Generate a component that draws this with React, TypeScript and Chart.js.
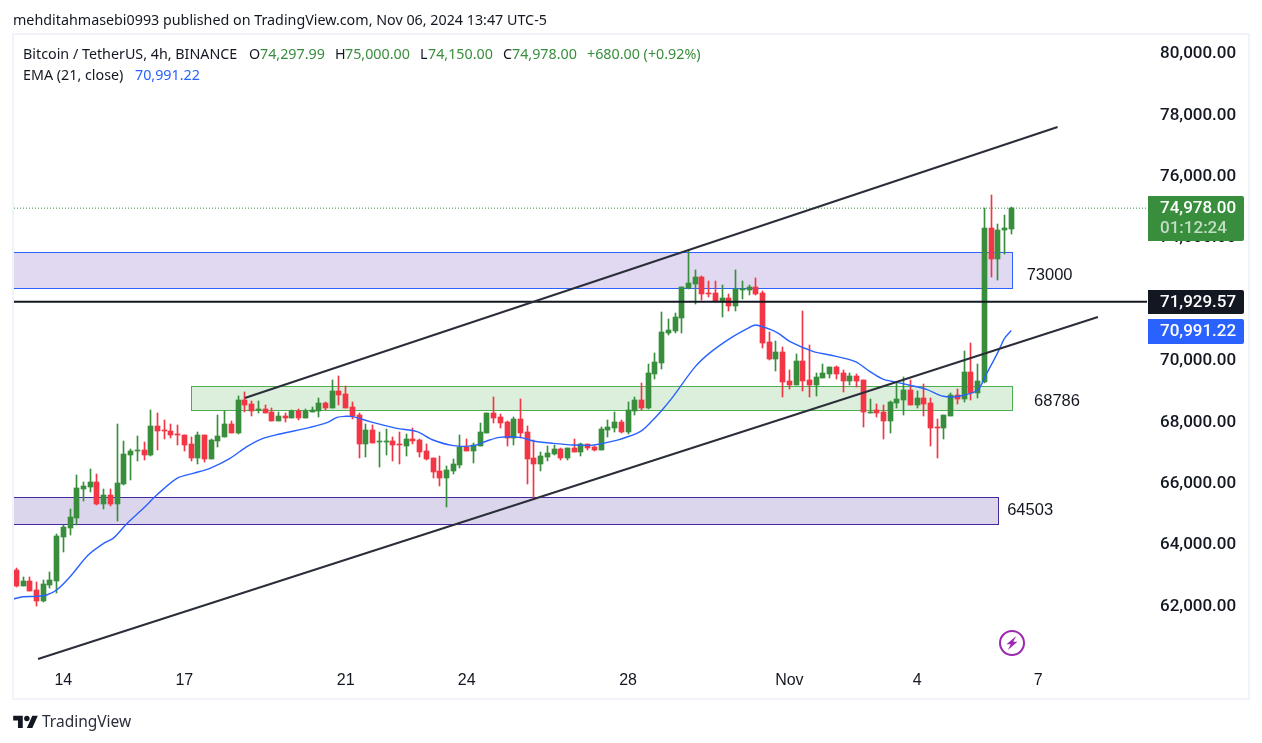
import React, { useEffect, useRef } from "react";
import { Chart, registerables } from "chart.js";

Chart.register(...registerables);

// OHLC values, one per 4h bar
const opens = [63190,62680,62830,62530,62190,62700,62840,64260,64550,64880,65830,65890,66050,65340,65630,65340,65990,66930,67060,67100,66930,67880,67750,67710,67620,67580,67290,66830,67580,66800,67390,67520,67940,67650,68720,68590,68400,68430,68330,68040,68200,68140,68370,68140,68330,68370,68630,68460,69020,68920,68500,68240,67290,67750,67360,67360,67390,67290,67230,67450,67420,67060,66830,66410,66180,66410,66610,67190,67060,67230,67650,68300,68170,68010,67490,68110,67680,66830,66640,66870,66960,67130,66830,67160,67030,67290,67190,67100,67750,67810,68010,67680,68370,68720,68460,69570,69930,70910,70970,71400,72370,72500,72730,72210,72210,71920,72050,71790,72310,72310,72410,72210,70620,70060,70290,69340,69210,70000,69380,69210,69440,69570,69800,69600,69340,69510,69380,68300,68400,68330,68040,68630,68730,69050,68560,68790,68630,67850,67810,68200,68890,68760,69640,68950,69310,74330,73320,74260,74297.99];
const highs = [63240,62970,62960,62800,62860,63120,64360,64650,65170,66280,66050,66480,66310,65830,65830,67940,67390,67130,67550,67360,68400,68300,68070,67940,67910,67580,67520,67680,67580,67450,68240,68370,68040,68860,68990,68690,68690,68560,68460,68330,68300,68400,68430,68430,68500,68790,68660,69380,69510,69180,68660,68300,67940,67910,67680,67780,67520,67680,67620,67810,67450,67290,66830,66900,66570,66800,67580,67450,67320,67970,68300,68820,68270,68040,68170,68760,67880,67420,67030,67230,67260,67160,67160,67450,67320,67290,67230,67850,68070,68330,68070,68660,68820,69280,69900,70260,71590,71360,71560,72410,73610,72960,72770,72600,72600,72470,72180,72960,72600,72470,72700,72280,70940,70650,70450,69700,70220,71620,70520,69600,69900,69800,69830,69700,69600,69570,69380,68760,68600,68560,68690,69280,69470,69380,69020,69250,68790,68110,68240,68950,69080,70320,70580,69900,74980,75400,74460,74750,75000];
const lows = [62640,62670,62510,62010,62150,62610,62450,63780,64330,64650,65440,65740,65300,65170,65270,64790,65960,66120,66740,66770,66900,67100,67450,67490,67260,67060,66740,66640,66700,66800,67190,67520,67650,67620,68350,68200,68290,68290,68040,68040,68010,68140,68070,68140,68330,68170,68400,68460,68560,68460,68110,66830,66870,67320,66540,66930,66740,66640,66900,67290,66870,66770,66180,65920,65240,66310,66510,67060,66670,67230,67650,67970,67810,67230,67260,67490,65990,65530,66410,66740,66930,66770,66770,67030,66900,67100,67060,67100,67520,67680,67650,67620,68240,68400,68430,69410,69730,70840,70910,70910,72340,71850,71980,72080,71920,71430,71620,71620,72020,72150,72150,70420,70030,69670,68820,69080,69210,69020,68820,68860,69440,69440,69410,68990,69210,69150,67850,68300,68170,67450,67650,68460,68240,68560,68460,68200,67230,66830,67450,68200,68600,68660,68730,68790,69280,72730,72630,73480,74150];
const closes = [62680,62830,62510,62190,62730,62860,64290,64590,64910,65860,65920,66050,65340,65630,65340,66020,66970,67060,67100,66930,67880,67710,67710,67580,67580,67260,66830,67580,66800,67420,67550,67940,67650,68720,68560,68370,68430,68300,68040,68200,68140,68370,68140,68370,68400,68630,68460,69020,68890,68460,68200,67290,67750,67320,67390,67390,67260,67260,67450,67390,67030,66800,66380,66180,66440,66640,67190,67060,67260,67680,68300,68140,67980,67490,68110,67650,66800,66640,66900,67000,67130,66830,67160,67030,67290,67160,67100,67780,67850,68010,67680,68400,68720,68460,69600,69960,70940,71010,71430,72410,72540,72730,72180,72180,71950,72050,71790,72340,72340,72410,72180,70580,70060,70290,69310,69210,70000,69340,69210,69470,69600,69800,69570,69340,69510,69340,68330,68330,68300,68040,68660,68760,69050,68560,68790,68600,67810,67810,68240,68890,68760,69640,68950,69340,74330,73320,74260,74330,74978];

// EMA (21, close), read at selected bars
const emaBars = [-0.45,1,3,4.5,6,8,10.7,13,14.4,16.4,18.9,20.9,23.9,26.3,28.8,31.8,34.3,36.7,39.2,43.7,46.2,47.7,48.9,50.1,52.6,56.6,59.6,62,65,68,70,71.9,74.9,76.9,79.9,82.9,85.3,86.8,89.8,92.8,94.7,96.2,97.7,101,103.4,106.6,109.1,110,112.6,113.6,115.1,118.6,121,124.8,127,129,131,133.4,135.4,137.9,140.4,143,144.3,145.3,146.3,147,148];
const emaValues = [62244,62320,62331,62374,62537,62972,63677,64058,64220,64688,65198,65632,66175,66338,66501,66827,67207,67479,67620,67837,67989,68163,68196,68185,68022,67805,67696,67424,67240,67240,67392,67511,67511,67392,67316,67261,67250,67294,67446,67696,68076,68435,68837,69814,70303,70792,71096,71172,70987,70867,70629,70303,70194,69977,69651,69401,69304,69184,69076,68848,68858,69053,69575,69976,70411,70736,70991.22];

// Drawings: trend channel, levels and zones
const upperTrendBars = [34, 154.9];
const upperTrendValues = [68793, 77622];
const lowerTrendBars = [3.23, 160.9];
const lowerTrendValues = [60290, 71432];
const levelValue = 71929.57;
const lastClose = 74978;
const emaLast = 70991.22;
const zoneLeftBars = [-2, 26, -2];
const zoneRightBars = [148.1, 148.1, 146];
const zoneTops = [73550, 69200, 65567];
const zoneBottoms = [72377, 68386, 64704];
const zoneLabels = ["73000", "68786", "64503"];
const zoneLabelBars = [150.3, 151.4, 147.4];
const zoneLabelValues = [72800, 68695, 65143];
const zoneStrokes = ["#2962ff", "#4caf50", "#4527a0"];
const zoneFills = ["rgba(103,58,183,0.2)", "rgba(76,175,80,0.2)", "rgba(69,39,160,0.19)"];

// Axes
const timeTickBars = [7, 25, 49, 67, 91, 115, 134, 152];
const timeTickLabels = ["14", "17", "21", "24", "28", "Nov", "4", "7"];
const priceTicks = [62000, 64000, 66000, 68000, 70000, 72000, 74000, 76000, 78000, 80000];

const GREEN = "#388e3c";
const RED = "#f23645";
const INK = "#131722";
const AXIS_FONT = '500 17px Roboto, sans-serif';
const fmt = (v: number) =>
  v.toLocaleString("en-US", { minimumFractionDigits: 2, maximumFractionDigits: 2 });

const bars = opens.map((_, i) => i);
const candleColors = opens.map((o, i) => (closes[i] >= o ? GREEN : RED));

const snapPlugin = {
  id: "snap",
  afterDatasetsUpdate(chart: any) {
    chart.data.datasets.forEach((d: any, i: number) => {
      if (!d.snap) return;
      chart.getDatasetMeta(i).data.forEach((el: any) => {
        el.x = Math.floor(el.x) + 0.5;
        el.y = Math.round(el.y);
        el.base = Math.round(el.base);
        if (Math.abs(el.base - el.y) < 1) el.base = el.y + 1;
      });
    });
  },
};

const zonesPlugin = {
  id: "zones",
  beforeDatasetsDraw(chart: any) {
    const { ctx, scales, chartArea: a } = chart;
    ctx.save();
    ctx.beginPath();
    ctx.rect(a.left, a.top, a.right - a.left, a.bottom - a.top);
    ctx.clip();
    zoneTops.forEach((top, i) => {
      const x0 = Math.round(scales.x.getPixelForValue(zoneLeftBars[i])) + 0.5;
      const x1 = Math.round(scales.x.getPixelForValue(zoneRightBars[i])) + 0.5;
      const y0 = Math.round(scales.y.getPixelForValue(top)) + 0.5;
      const y1 = Math.round(scales.y.getPixelForValue(zoneBottoms[i])) + 0.5;
      ctx.fillStyle = zoneFills[i];
      ctx.fillRect(x0, y0, x1 - x0, y1 - y0);
      ctx.strokeStyle = zoneStrokes[i];
      ctx.lineWidth = 1;
      ctx.strokeRect(x0, y0, x1 - x0, y1 - y0);
    });
    ctx.restore();
  },
  afterDatasetsDraw(chart: any) {
    const { ctx, scales } = chart;
    ctx.save();
    ctx.fillStyle = INK;
    ctx.font = '16.5px "Liberation Sans", sans-serif';
    ctx.textAlign = "left";
    ctx.textBaseline = "middle";
    zoneLabels.forEach((t, i) => {
      ctx.fillText(t, scales.x.getPixelForValue(zoneLabelBars[i]), scales.y.getPixelForValue(zoneLabelValues[i]));
    });
    ctx.restore();
  },
};

const tagsPlugin = {
  id: "tags",
  afterDraw(chart: any) {
    const { ctx, scales } = chart;
    const tag = (value: number, nudge: number, h: number, bg: string, lines: [string, string][]) => {
      const cy = scales.y.getPixelForValue(value) + nudge;
      const top = Math.round(cy - 12.5);
      ctx.fillStyle = bg;
      ctx.beginPath();
      ctx.roundRect(1148, top, 96, h, [0, 2, 2, 0]);
      ctx.fill();
      ctx.font = AXIS_FONT;
      ctx.textAlign = "left";
      ctx.textBaseline = "middle";
      lines.forEach(([t, c], i) => {
        ctx.fillStyle = c;
        ctx.fillText(t, 1160, top + 12.5 + i * 20.5);
      });
    };
    ctx.save();
    tag(lastClose, 0, 45, GREEN, [[fmt(lastClose), "#ffffff"], ["01:12:24", "rgba(255,255,255,0.7)"]]);
    tag(levelValue, 0.5, 24, INK, [[fmt(levelValue), "#ffffff"]]);
    tag(emaLast, 1, 25, "#2962ff", [[fmt(emaLast), "#ffffff"]]);
    ctx.restore();
  },
};

const legendBase: React.CSSProperties = {
  position: "absolute",
  whiteSpace: "nowrap",
  font: '14.3px "Noto Sans", sans-serif',
  lineHeight: "18px",
  color: INK,
};

const Txt = ({ x, y, c, children }: { x: number; y: number; c?: string; children: React.ReactNode }) => (
  <span style={{ ...legendBase, left: x, top: y, color: c || INK }}>{children}</span>
);

export default function App() {
  const ref = useRef<HTMLCanvasElement>(null);
  useEffect(() => {
    const chart = new Chart(ref.current!, {
      type: "bar",
      data: {
        datasets: [
          {
            type: "line",
            data: upperTrendBars.map((x, i) => ({ x, y: upperTrendValues[i] })),
            borderColor: "#2a2e39",
            borderWidth: 2,
            pointRadius: 0,
            order: 0,
          },
          {
            type: "line",
            data: lowerTrendBars.map((x, i) => ({ x, y: lowerTrendValues[i] })),
            borderColor: "#2a2e39",
            borderWidth: 2,
            pointRadius: 0,
            order: 0,
          },
          {
            type: "line",
            data: [{ x: -0.34, y: levelValue }, { x: 168.2, y: levelValue }],
            borderColor: INK,
            borderWidth: 2,
            pointRadius: 0,
            order: 1,
          },
          {
            type: "line",
            data: [{ x: -0.34, y: lastClose }, { x: 168.2, y: lastClose }],
            borderColor: GREEN,
            borderWidth: 1,
            borderDash: [1, 2],
            pointRadius: 0,
            order: 1,
          },
          {
            type: "line",
            data: emaBars.map((x, i) => ({ x, y: emaValues[i] })),
            borderColor: "#2962ff",
            borderWidth: 1.4,
            pointRadius: 0,
            tension: 0.3,
            order: 2,
          },
          {
            snap: true,
            data: bars.map((i) => ({ x: i, y: [opens[i], closes[i]] })),
            backgroundColor: candleColors,
            barThickness: 5,
            grouped: false,
            order: 3,
          },
          {
            snap: true,
            data: bars.map((i) => ({ x: i, y: [lows[i], highs[i]] })),
            backgroundColor: candleColors,
            barThickness: 1,
            grouped: false,
            order: 4,
          },
        ] as any,
      },
      options: {
        animation: false,
        responsive: false,
        events: [],
        layout: { padding: { left: 14, top: 35, right: 12, bottom: 45 } },
        plugins: { legend: { display: false }, tooltip: { enabled: false } },
        scales: {
          x: {
            type: "linear",
            min: -0.34,
            max: 168.2,
            offset: false,
            grid: { display: false },
            border: { display: false },
            afterBuildTicks: (s: any) => {
              s.ticks = timeTickBars.map((value) => ({ value }));
            },
            afterFit: (s: any) => {
              s.height = 36;
            },
            ticks: {
              autoSkip: false,
              maxRotation: 0,
              padding: 1,
              color: INK,
              font: { family: '"Liberation Sans", sans-serif', size: 16 },
              callback: (v: any) => timeTickLabels[timeTickBars.indexOf(v)] ?? "",
            },
          },
          y: {
            type: "linear",
            position: "right",
            min: 60192,
            max: 80619,
            grid: { display: false },
            border: { display: false },
            afterBuildTicks: (s: any) => {
              s.ticks = priceTicks.map((value) => ({ value }));
            },
            afterFit: (s: any) => {
              s.width = 103;
            },
            ticks: {
              autoSkip: false,
              padding: 5,
              color: INK,
              font: { family: "Roboto, sans-serif", size: 17, weight: "500" },
              callback: (v: any) => fmt(v),
            },
          },
        },
      } as any,
      plugins: [snapPlugin, zonesPlugin, tagsPlugin],
    });
    return () => chart.destroy();
  }, []);

  return (
    <div style={{ position: "absolute", left: 0, top: 0, width: 1262, height: 743, background: "#fff", overflow: "hidden" }}>
      <canvas ref={ref} width={1262} height={743} style={{ position: "absolute", left: 0, top: 0, display: "block" }} />
      <div style={{ position: "absolute", left: 12, top: 33, width: 1234, height: 663, border: "2px solid #f0f3fa", pointerEvents: "none" }} />
      <Txt x={13} y={11}>mehditahmasebi0993 published on TradingView.com, Nov 06, 2024 13:47 UTC-5</Txt>
      <Txt x={23} y={45}>Bitcoin / TetherUS, 4h, BINANCE</Txt>
      <Txt x={249} y={45}>O</Txt>
      <Txt x={260} y={45} c={GREEN}>74,297.99</Txt>
      <Txt x={335} y={45}>H</Txt>
      <Txt x={345} y={45} c={GREEN}>75,000.00</Txt>
      <Txt x={420} y={45}>L</Txt>
      <Txt x={428} y={45} c={GREEN}>74,150.00</Txt>
      <Txt x={503} y={45}>C</Txt>
      <Txt x={512} y={45} c={GREEN}>74,978.00</Txt>
      <Txt x={587} y={45} c={GREEN}>+680.00 (+0.92%)</Txt>
      <Txt x={23} y={66}>EMA (21, close)</Txt>
      <Txt x={135} y={66} c="#2962ff">70,991.22</Txt>
      <svg width="26" height="26" viewBox="0 0 26 26" style={{ position: "absolute", left: 999, top: 630 }}>
        <circle cx="13" cy="13" r="12" fill="#fff" stroke="#9c27b0" strokeWidth="2" />
        <path d="M17.2 6 L7.5 14.2 L11.8 14.2 L8.8 20 L18.5 11.8 L14.2 11.8 Z" fill="#9c27b0" />
      </svg>
      <svg width="25" height="13" viewBox="0 0 36 19" style={{ position: "absolute", left: 13, top: 715 }}>
        <path d="M14 19H7V8H0V1h14v18zM28 19h-8l7.9-18H36l-8 18z" fill={INK} />
        <circle cx="20" cy="5" r="4" fill={INK} />
      </svg>
      <span style={{ position: "absolute", left: 42, top: 712, font: '15.5px "Noto Sans", sans-serif', lineHeight: "18px", color: "#2a2e39", whiteSpace: "nowrap" }}>TradingView</span>
    </div>
  );
}
